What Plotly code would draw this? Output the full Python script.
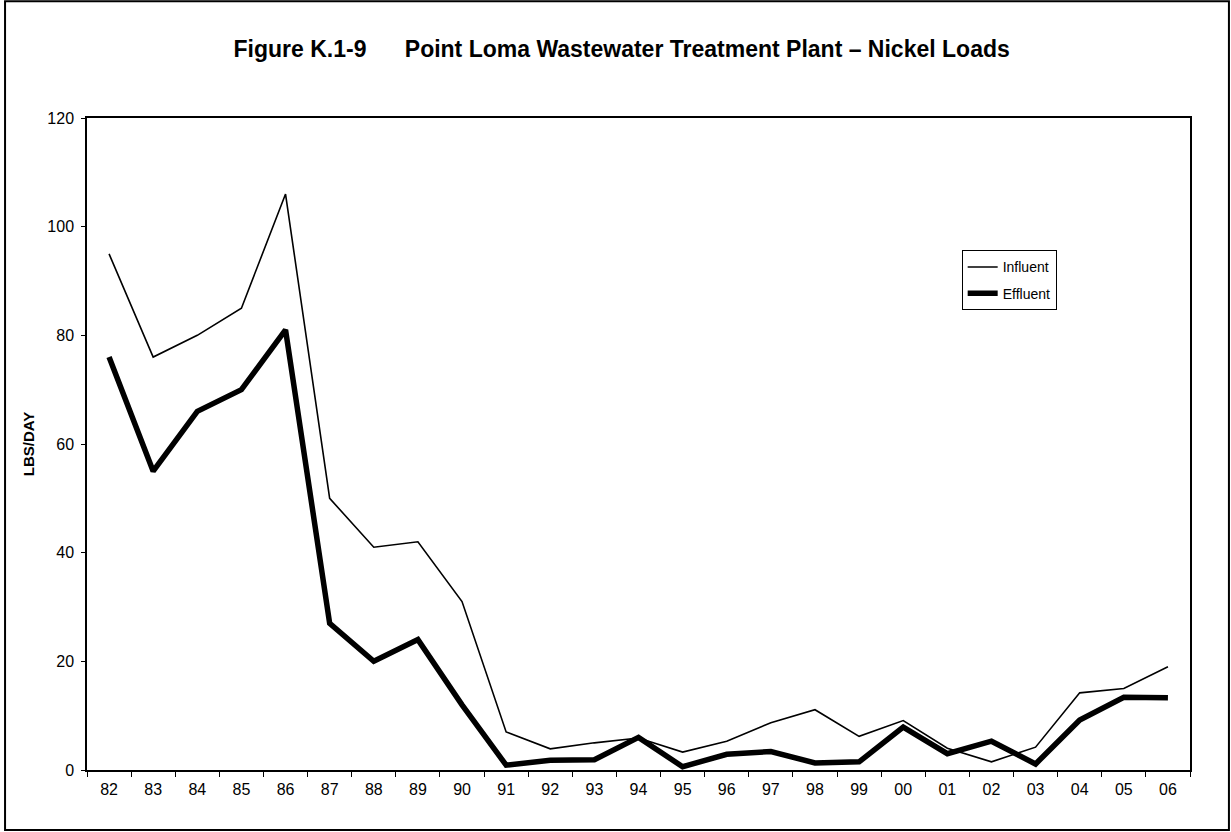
from plotly import graph_objects as go

# Fiscal years shown along the x axis
YEARS = [
    "82", "83", "84", "85", "86", "87", "88", "89", "90", "91", "92", "93",
    "94", "95", "96", "97", "98", "99", "00", "01", "02", "03", "04", "05", "06",
]

# Nickel loads in lbs/day
INFLUENT = [
    95, 76, 80, 85, 106, 50, 41, 42, 31, 7, 3.9, 5.0, 5.9, 3.3, 5.3, 8.7,
    11.1, 6.2, 9.1, 4.0, 1.5, 4.2, 14.2, 15.0, 19.0,
]
EFFLUENT = [
    76, 55, 66, 70, 81, 27, 20, 24, 12, 0.9, 1.8, 1.9, 6.0, 0.6, 2.9, 3.4,
    1.3, 1.5, 7.9, 3.0, 5.3, 1.1, 9.2, 13.4, 13.3,
]

TITLE = (
    "<b>Figure K.1-9&nbsp;&nbsp;&nbsp;&nbsp;&nbsp;&nbsp;"
    "Point Loma Wastewater Treatment Plant \u2013 Nickel Loads</b>"
)
FONT = "Liberation Sans, Arial, sans-serif"

fig = go.Figure()
fig.add_trace(
    go.Scatter(
        x=YEARS, y=INFLUENT, mode="lines", name="Influent", legendgroup="inf",
        line={"color": "black", "width": 1.6},
    )
)
fig.add_trace(
    go.Scatter(
        x=YEARS, y=EFFLUENT, mode="lines", name="Effluent", legendgroup="eff",
        line={"color": "black", "width": 5.5},
    )
)

fig.update_layout(
    width=1231,
    height=832,
    margin={"l": 87, "r": 41, "t": 118, "b": 62},
    paper_bgcolor="white",
    plot_bgcolor="white",
    font={"family": FONT, "color": "black", "size": 15},
    title={
        "text": TITLE,
        "x": 0.505,
        "xanchor": "center",
        "y": 0.941,
        "yanchor": "middle",
        "font": {"size": 23, "family": FONT},
    },
    showlegend=True,
    legend={
        "x": 0.793,
        "y": 0.797,
        "xanchor": "left",
        "yanchor": "top",
        "bordercolor": "black",
        "borderwidth": 1,
        "bgcolor": "white",
        "font": {"size": 14},
        "tracegroupgap": 5,
    },
)

fig.update_xaxes(
    type="category",
    range=[-0.5, len(YEARS) - 0.5],
    showline=True,
    linecolor="black",
    linewidth=1.5,
    mirror=True,
    ticks="outside",
    tickson="boundaries",
    ticklen=5,
    tickcolor="black",
    showgrid=False,
    tickfont={"size": 16},
    ticklabelstandoff=4,
)
fig.update_yaxes(
    range=[0, 120],
    dtick=20,
    showline=True,
    linecolor="black",
    linewidth=1.5,
    mirror=True,
    ticks="outside",
    ticklen=4,
    tickcolor="black",
    showgrid=False,
    zeroline=False,
    tickfont={"size": 16},
    ticklabelstandoff=4,
    title={"text": "<b>LBS/DAY</b>", "font": {"size": 15}, "standoff": 9},
)

# Outer frame round the whole figure
fig.add_shape(
    type="rect", xref="paper", yref="paper",
    x0=-0.0743, x1=1.0353, y0=-0.092, y1=1.179,
    line={"color": "black", "width": 2},
)

fig.write_html(
    "out.html",
    config={"displayModeBar": False},
    post_script="document.body.style.margin='0';",
)
